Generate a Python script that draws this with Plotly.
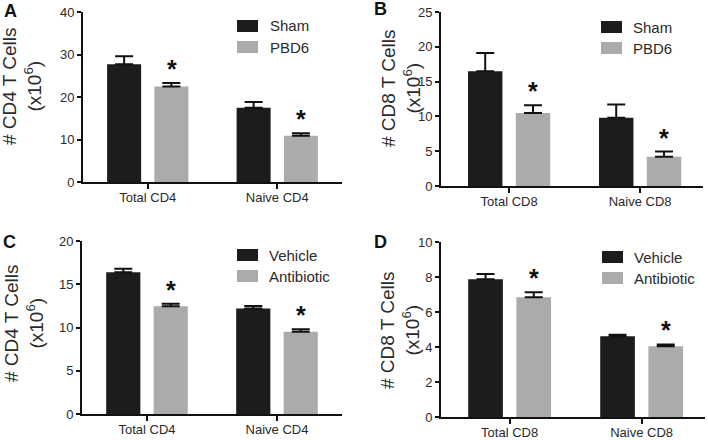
import plotly.graph_objects as go

W, H = 708, 440

# ---------------- data ----------------
cats_cd4 = ["Total CD4", "Naive CD4"]
cats_cd8 = ["Total CD8", "Naive CD8"]

# Panel A
sham_A = [27.7, 17.5]
sham_A_err = [1.9, 1.3]
pbd6_A = [22.5, 10.9]
pbd6_A_err = [0.8, 0.6]

# Panel B
sham_B = [16.5, 9.8]
sham_B_err = [2.6, 1.9]
pbd6_B = [10.5, 4.2]
pbd6_B_err = [1.1, 0.75]

# Panel C
vehicle_C = [16.4, 12.2]
vehicle_C_err = [0.4, 0.3]
antibiotic_C = [12.45, 9.5]
antibiotic_C_err = [0.3, 0.3]

# Panel D
vehicle_D = [7.87, 4.62]
vehicle_D_err = [0.3, 0.08]
antibiotic_D = [6.85, 4.05]
antibiotic_D_err = [0.28, 0.1]

yticks_A = [0, 10, 20, 30, 40]
yticks_B = [0, 5, 10, 15, 20, 25]
yticks_C = [0, 5, 10, 15, 20]
yticks_D = [0, 2, 4, 6, 8, 10]

# ---------------- style ----------------
DARK = "#1c1c1c"
GRAY = "#ababab"
FONT = "Liberation Sans, Arial, sans-serif"
TXT = "#2a2a2a"


def px(x):
    return x / W


def py(y):
    return 1 - y / H


panels = [
    dict(letter="A", cats=cats_cd4, n1="Sham", v1=sham_A, e1=sham_A_err,
         n2="PBD6", v2=pbd6_A, e2=pbd6_A_err, ticks=yticks_A,
         xd=(83, 342), yd=(12, 182), xr=[-0.5, 1.5], ylab="# CD4 T Cells",
         letter_pos=(10, 11), title_pos=(22, 86), leg=(237, 20, 268)),
    dict(letter="B", cats=cats_cd8, n1="Sham", v1=sham_B, e1=sham_B_err,
         n2="PBD6", v2=pbd6_B, e2=pbd6_B_err, ticks=yticks_B,
         xd=(441, 703), yd=(12, 186), xr=[-0.52, 1.48], ylab="# CD8 T Cells",
         letter_pos=(380, 9), title_pos=(401, 88), leg=(601, 21, 631)),
    dict(letter="C", cats=cats_cd4, n1="Vehicle", v1=vehicle_C, e1=vehicle_C_err,
         n2="Antibiotic", v2=antibiotic_C, e2=antibiotic_C_err, ticks=yticks_C,
         xd=(82, 342), yd=(241, 414), xr=[-0.5, 1.5], ylab="# CD4 T Cells",
         letter_pos=(9, 242), title_pos=(24, 323), leg=(237, 249, 267)),
    dict(letter="D", cats=cats_cd8, n1="Vehicle", v1=vehicle_D, e1=vehicle_D_err,
         n2="Antibiotic", v2=antibiotic_D, e2=antibiotic_D_err, ticks=yticks_D,
         xd=(441, 705), yd=(242, 417), xr=[-0.52, 1.48], ylab="# CD8 T Cells",
         letter_pos=(380, 242), title_pos=(400, 330), leg=(602, 251, 632)),
]

fig = go.Figure()
annotations = []
shapes = []

for i, p in enumerate(panels):
    k = "" if i == 0 else str(i + 1)
    xa, ya = "x" + k, "y" + k
    for name, vals, errs, col in ((p["n1"], p["v1"], p["e1"], DARK),
                                  (p["n2"], p["v2"], p["e2"], GRAY)):
        fig.add_trace(go.Bar(
            x=p["cats"], y=vals, name=name, marker=dict(color=col, line=dict(width=0)),
            error_y=dict(type="data", array=errs, arrayminus=[0] * len(errs),
                         symmetric=False, color="#111111", thickness=2, width=9),
            xaxis=xa, yaxis=ya, showlegend=False,
        ))
    fig.layout["xaxis" + k] = dict(
        domain=[px(p["xd"][0]), px(p["xd"][1])], anchor=ya, range=p["xr"],
        type="category", showline=True, linecolor="#111111", linewidth=2,
        ticks="outside", ticklen=5, tickwidth=2, tickcolor="#111111",
        ticklabelstandoff=-3,
        showgrid=False, zeroline=False, automargin=False,
        tickfont=dict(family=FONT, size=13, color=TXT),
    )
    fig.layout["yaxis" + k] = dict(
        domain=[py(p["yd"][1]), py(p["yd"][0])], anchor=xa,
        range=[0, p["ticks"][-1]], tickvals=p["ticks"],
        showline=True, linecolor="#111111", linewidth=2,
        ticks="outside", ticklen=4, tickwidth=2, tickcolor="#111111",
        showgrid=False, zeroline=False, automargin=False,
        tickfont=dict(family=FONT, size=13, color=TXT),
    )
    # asterisks above the second series (significant)
    for c, v, e in zip(p["cats"], p["v2"], p["e2"]):
        annotations.append(dict(
            x=c, y=v + e, xref=xa, yref=ya, text="<b>*</b>", showarrow=False,
            xshift=24, yshift=-2, yanchor="bottom",
            font=dict(family=FONT, size=25, color="#111111"),
        ))
    lx, ly = p["letter_pos"]
    annotations.append(dict(
        x=px(lx), y=py(ly), xref="paper", yref="paper", text="<b>%s</b>" % p["letter"],
        showarrow=False, xanchor="center", yanchor="middle",
        font=dict(family=FONT, size=18, color="#111111"),
    ))
    tx, ty = p["title_pos"]
    annotations.append(dict(
        x=px(tx), y=py(ty), xref="paper", yref="paper",
        text=p["ylab"] + "<br>(x10<sup>6</sup>)", textangle=-90,
        showarrow=False, xanchor="center", yanchor="middle",
        font=dict(family=FONT, size=19, color=TXT),
    ))
    bx, by, tx2 = p["leg"]
    for j, (name, col) in enumerate(((p["n1"], DARK), (p["n2"], GRAY))):
        y0 = by + j * 21
        shapes.append(dict(type="rect", xref="paper", yref="paper",
                           x0=px(bx), x1=px(bx + 21), y0=py(y0 + 12), y1=py(y0),
                           fillcolor=col, line=dict(width=0)))
        annotations.append(dict(
            x=px(tx2), y=py(y0 + 6), xref="paper", yref="paper", text=name,
            showarrow=False, xanchor="left", yanchor="middle",
            font=dict(family=FONT, size=15, color=TXT),
        ))

fig.update_layout(
    width=W, height=H, autosize=False,
    margin=dict(l=0, r=0, t=0, b=0, pad=0),
    paper_bgcolor="white", plot_bgcolor="white",
    barmode="group", bargap=0.27, bargroupgap=0.28,
    showlegend=False,
    annotations=annotations, shapes=shapes,
    font=dict(family=FONT),
)

fig.write_html(
    "out.html",
    config={"displayModeBar": False},
    post_script="document.body.style.margin='0';document.body.style.overflow='hidden';",
)
